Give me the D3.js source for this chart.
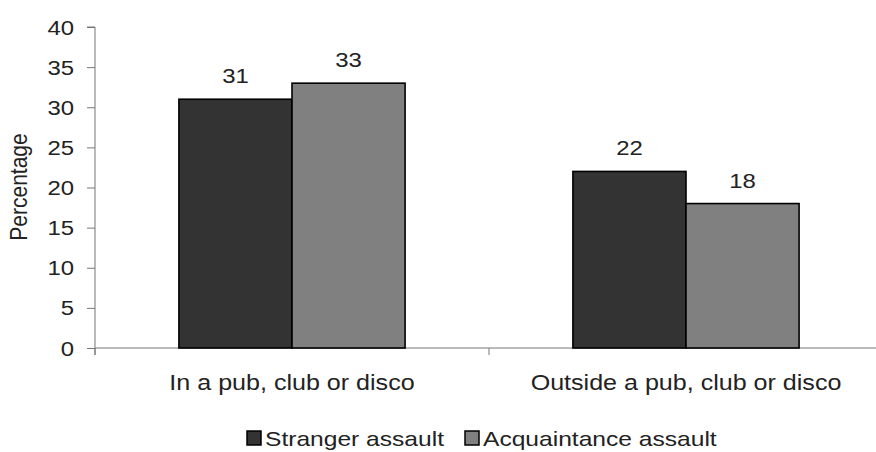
<!DOCTYPE html>
<html><head><meta charset="utf-8">
<script src="https://cdn.jsdelivr.net/npm/d3@7"></script>
<style>body{margin:0;background:#fff}svg{display:block}text{font-family:"Liberation Sans",Arial,sans-serif;fill:#222}</style>
</head><body><svg id="c" width="876" height="452"></svg>
<script>
const categories = ["In a pub, club or disco", "Outside a pub, club or disco"];
const seriesNames = ["Stranger assault", "Acquaintance assault"];
const stranger = [31, 22];
const acquaintance = [33, 18];
const yTicks = [0, 5, 10, 15, 20, 25, 30, 35, 40];
const colors = ["#333333", "#808080"];

const svg = d3.select("#c");
const W = 876;
const m = {left: 95, right: -7};
const SX = 1.14; // horizontal stretch of glyphs
const x0 = d3.scaleBand().domain(categories).range([m.left, W - m.right]).padding(0);
const inner = 0.574;
const x1 = d3.scaleBand().domain(seriesNames).range([0, x0.bandwidth() * inner]).padding(0);
const y = d3.scaleLinear().domain([0, 40]).range([348, 27]);

function stretchedText(parent, x, yy, str, size, anchor, sx) {
  return parent.append("text")
    .attr("transform", `translate(${x},${yy}) scale(${sx || SX},1)`)
    .attr("text-anchor", anchor || "middle")
    .style("font-size", size + "px").text(str);
}

// y axis
const ya = svg.append("g").attr("transform", `translate(${m.left},0)`)
  .call(d3.axisLeft(y).tickValues(yTicks).tickSize(8).tickFormat(""));
ya.select(".domain").attr("stroke", "#777").attr("d", `M-8,${y(40)}H0V${y(0)+7}`);
ya.selectAll(".tick line").attr("stroke", "#777");
const yl = svg.append("g");
yTicks.forEach(t => stretchedText(yl, m.left - 21, y(t) + 7.5, String(t), 21, "end"));

// x axis
const xa = svg.append("g").attr("transform", `translate(0,${y(0)})`)
  .call(d3.axisBottom(x0).tickSize(0).tickFormat(""));
xa.select(".domain").attr("stroke", "#777").attr("d", `M${m.left},0H${W - m.right}`);
const bounds = [x0(categories[0]), x0(categories[1]), x0(categories[1]) + x0.bandwidth()];
svg.append("g").selectAll("line").data(bounds).join("line")
  .attr("x1", d => d).attr("x2", d => d).attr("y1", y(0)).attr("y2", y(0) + 7)
  .attr("stroke", "#777");
const xl = svg.append("g");
categories.forEach(c => stretchedText(xl, x0(c) + x0.bandwidth() / 2, 390, c, 22));

// bars
const data = categories.map((c, i) => ({cat: c, vals: [stranger[i], acquaintance[i]]}));
const off = x0.bandwidth() * (1 - inner) / 2;
const g = svg.append("g");
data.forEach(d => {
  d.vals.forEach((v, j) => {
    const bx = x0(d.cat) + off + x1(seriesNames[j]);
    g.append("rect").attr("x", bx).attr("y", y(v)).attr("width", x1.bandwidth()).attr("height", y(0) - y(v))
      .attr("fill", colors[j]).attr("stroke", "#000").attr("stroke-width", 1.6);
    stretchedText(g, bx + x1.bandwidth() / 2, y(v) - 16, String(v), 21);
  });
});

// y label
svg.append("text").attr("transform", "translate(27,187) rotate(-90) scale(1,1.1)").attr("text-anchor", "middle")
  .style("font-size", "21px").text("Percentage");

// legend
const lg = svg.append("g");
const lx = [247, 465];
seriesNames.forEach((s, j) => {
  lg.append("rect").attr("x", lx[j]).attr("y", 431).attr("width", 14).attr("height", 14)
    .attr("fill", colors[j]).attr("stroke", "#000").attr("stroke-width", 1.5);
  stretchedText(lg, lx[j] + 18, 446, s, 20.5, "start", 1.2);
});
</script></body></html>
